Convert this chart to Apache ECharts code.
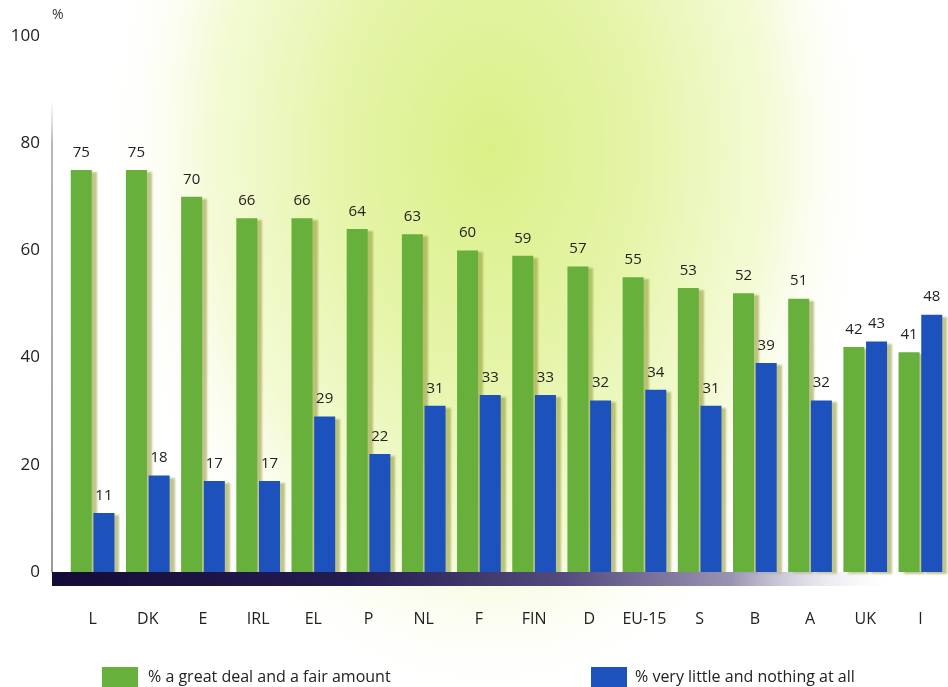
<!DOCTYPE html>
<html>
<head>
<meta charset="utf-8">
<script src="https://cdn.jsdelivr.net/npm/echarts@6/dist/echarts.min.js"></script>
<style>
html,body{margin:0;padding:0;background:#fff;}
#c{width:948px;height:687px;}
</style>
</head>
<body>
<div id="c"></div>
<script>
var categories = ['L','DK','E','IRL','EL','P','NL','F','FIN','D','EU-15','S','B','A','UK','I'];
var greatDeal = [75,75,70,66,66,64,63,60,59,57,55,53,52,51,42,41];
var veryLittle = [11,18,17,17,29,22,31,33,33,32,34,31,39,32,43,48];
var yTicks = [0,20,40,60,80,100];
var seriesNames = ['% a great deal and a fair amount','% very little and nothing at all'];

var FONT = '"Open Sans", "Noto Sans", sans-serif';
var chart = echarts.init(document.getElementById('c'), null, {renderer:'canvas'});

var barShadow = {
  shadowColor: 'rgba(140,150,50,0.55)',
  shadowOffsetX: 5,
  shadowOffsetY: 2,
  shadowBlur: 2
};

chart.setOption({
  backgroundColor: '#ffffff',
  animation: false,
  graphic: {
    elements: [
      {
        type: 'circle', silent: true, z: -10,
        x: 490, y: 150, scaleX: 390, scaleY: 560,
        shape: {cx: 0, cy: 0, r: 1},
        style: {
          fill: {
            type: 'radial', x: 0.5, y: 0.5, r: 0.5,
            colorStops: [
              {offset: 0, color: 'rgba(218,240,135,1)'},
              {offset: 0.4, color: 'rgba(228,244,165,0.95)'},
              {offset: 0.72, color: 'rgba(240,249,200,0.75)'},
              {offset: 1, color: 'rgba(255,255,255,0)'}
            ]
          }
        }
      },
      {
        type: 'rect', silent: true, z: 100,
        shape: {x: 52, y: 572, width: 850, height: 14},
        style: {
          fill: {
            type: 'linear', x: 0, y: 0, x2: 1, y2: 0,
            colorStops: [
              {offset: 0, color: '#140c36'},
              {offset: 0.35, color: '#231c50'},
              {offset: 0.6, color: '#544a7e'},
              {offset: 0.8, color: '#9a94b2'},
              {offset: 1, color: 'rgba(255,255,255,0)'}
            ]
          }
        }
      },
      {
        type: 'text', silent: true, z: 100,
        x: 52, y: 8,
        style: {text: '%', font: '14px ' + FONT, fill: '#333'}
      }
    ]
  },
  legend: [
    {
      data: [seriesNames[0]],
      left: 97, top: 662,
      itemWidth: 36, itemHeight: 20, icon: 'rect',
      textStyle: {fontFamily: FONT, fontSize: 16, color: '#222', padding: [0,0,0,5]}
    },
    {
      data: [seriesNames[1]],
      left: 586, top: 662,
      itemWidth: 36, itemHeight: 20, icon: 'rect',
      textStyle: {fontFamily: FONT, fontSize: 16, color: '#222', padding: [0,0,0,3]}
    }
  ],
  grid: {left: 65, right: -11.5, top: 36, bottom: 115, containLabel: false},
  xAxis: {
    type: 'category',
    data: categories,
    axisLine: {show: false},
    axisTick: {show: false},
    axisLabel: {interval: 0, margin: 39, fontFamily: FONT, fontSize: 16, color: '#222'}
  },
  yAxis: {
    type: 'value',
    min: yTicks[0], max: yTicks[yTicks.length-1], interval: 20,
    offset: 13,
    axisLine: {
      show: true,
      lineStyle: {
        width: 1.5,
        color: {
          type: 'linear', x: 0, y: 36, x2: 0, y2: 572, global: true,
          colorStops: [
            {offset: 0, color: 'rgba(160,160,160,0)'},
            {offset: 0.12, color: 'rgba(160,160,160,0)'},
            {offset: 0.2, color: 'rgba(150,150,150,0.9)'},
            {offset: 1, color: 'rgba(120,120,120,1)'}
          ]
        }
      }
    },
    axisTick: {show: false},
    splitLine: {show: false},
    axisLabel: {margin: 12, fontFamily: FONT, fontSize: 17, color: '#222'}
  },
  series: [
    {
      name: seriesNames[0],
      type: 'bar',
      data: greatDeal,
      barWidth: 21,
      barGap: '8%',
      itemStyle: Object.assign({color: '#67b03b'}, barShadow),
      label: {show: true, position: 'top', distance: 10, fontFamily: FONT, fontSize: 15, color: '#222'}
    },
    {
      name: seriesNames[1],
      type: 'bar',
      data: veryLittle,
      barWidth: 21,
      itemStyle: Object.assign({color: '#1d52bd'}, barShadow),
      label: {show: true, position: 'top', distance: 10, fontFamily: FONT, fontSize: 15, color: '#222'}
    }
  ]
});
</script>
</body>
</html>
